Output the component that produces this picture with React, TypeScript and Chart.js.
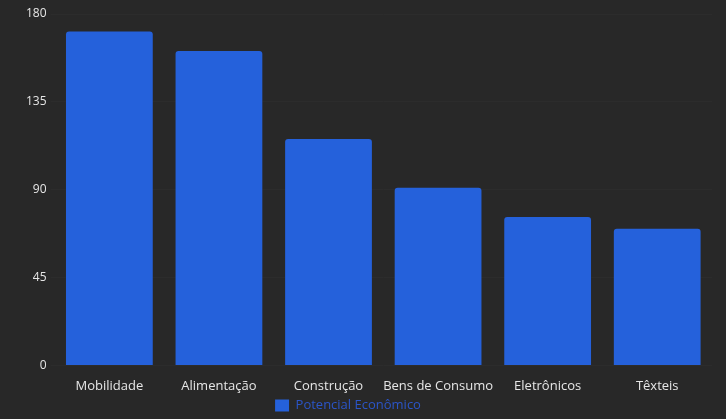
import React, { useEffect, useRef } from "react";
import { Chart, registerables } from "chart.js";

Chart.register(...registerables);

const categories = ["Mobilidade", "Alimentação", "Construção", "Bens de Consumo", "Eletrônicos", "Têxteis"];
const seriesLabel = "Potencial Econômico";
const values = [171, 161, 116, 91, 76, 70];
const yTicks = [0, 45, 90, 135, 180];

const FONT = "'Open Sans', 'Noto Sans', sans-serif";

const legendShift = {
  id: "legendShift",
  afterLayout(chart: any) {
    const l = chart.legend;
    if (l) {
      l.left -= 19;
      l.right -= 19;
    }
  },
};

export default function App() {
  const ref = useRef<HTMLCanvasElement | null>(null);

  useEffect(() => {
    document.body.style.margin = "0";
    document.body.style.background = "#282828";
    const ctx = ref.current;
    if (!ctx) return;
    const chart = new Chart(ctx, {
      type: "bar",
      data: {
        labels: categories,
        datasets: [
          {
            label: seriesLabel,
            data: values,
            backgroundColor: "#2561db",
            borderRadius: 3,
            borderSkipped: "bottom",
            barPercentage: 0.88,
            categoryPercentage: 0.9,
          },
        ],
      },
      options: {
        animation: false,
        responsive: false,
        maintainAspectRatio: false,
        layout: { padding: { left: 22, right: 14, top: 14, bottom: -3 } },
        scales: {
          x: {
            grid: { display: false, drawTicks: false },
            border: { display: false },
            afterFit: (s: any) => {
              s.height -= 10;
            },
            ticks: {
              color: "#e6e6e6",
              font: { family: FONT, size: 13 },
              padding: 13,
              maxRotation: 0,
              minRotation: 0,
              autoSkip: false,
            },
          },
          y: {
            min: 0,
            max: 180,
            afterBuildTicks: (axis: any) => {
              axis.ticks = yTicks.map((v) => ({ value: v }));
            },
            grid: { color: "rgba(255,255,255,0.018)", drawTicks: true, tickLength: 4 },
            border: { display: false },
            ticks: { color: "#e6e6e6", font: { family: FONT, size: 12 }, padding: 4 },
          },
        },
        plugins: {
          legend: {
            position: "bottom",
            labels: {
              color: "#2b55c8",
              font: { family: FONT, size: 13 },
              boxWidth: 14,
              boxHeight: 12,
              padding: 2,
            },
          },
          tooltip: { enabled: false },
        },
      },
      plugins: [legendShift],
    });
    return () => chart.destroy();
  }, []);

  return (
    <div style={{ width: 726, height: 419, background: "#282828" }}>
      <canvas ref={ref} width={726} height={419} style={{ display: "block" }} />
    </div>
  );
}
